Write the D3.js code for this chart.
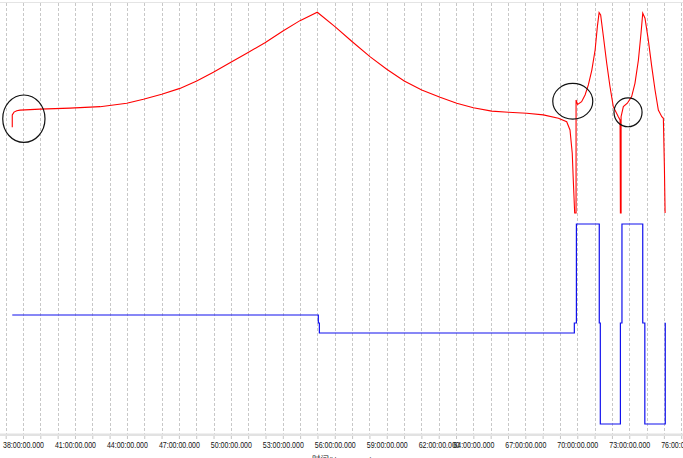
<!DOCTYPE html>
<html>
<head>
<meta charset="utf-8">
<script src="https://cdn.jsdelivr.net/npm/d3@7"></script>
<style>
  body { margin: 0; background: #fff; }
  svg { display: block; font-family: "Liberation Sans", Arial, sans-serif; }
</style>
</head>
<body>
<svg></svg>
<script>
let width = 683, height = 458;

// hour marks on the time axis (only some of them carry a label)
let gridHours = d3.range(37, 77);
let labelHours = [38, 41, 44, 47, 50, 53, 56, 59, 62, 64, 67, 70, 73, 76];

// red series: [hours, value]
let redHours = [37.38, 37.38, 37.48, 37.64, 37.83, 38.98, 40.71, 42.45, 43.99, 44.95, 46.01, 47.06, 48.03, 48.99,
  49.95, 50.92, 51.97, 53.03, 53.99, 54.99, 56.01, 57.01, 58.03, 59.0, 60.01, 61.02, 62.08, 63.04, 64.0,
  65.06, 66.02, 67.08, 68.04, 68.91, 69.39, 69.58, 69.71, 69.77, 69.85, 69.93, 69.93, 70.02, 70.25, 70.45,
  70.64, 70.84, 71.03, 71.16, 71.26, 71.35, 71.51, 71.70, 71.89, 72.08, 72.37, 72.47, 72.49, 72.53, 72.53,
  72.66, 72.89, 73.14, 73.33, 73.53, 73.68, 73.78, 73.91, 74.10, 74.30, 74.49, 74.68, 74.88, 74.97, 75.03, 75.07];
let redValues = [42.6, 48.8, 50.2, 50.9, 51.2, 51.7, 52.2, 52.9, 54.6, 56.6, 59.1, 62.0, 65.7, 70.0,
  74.8, 79.5, 84.7, 90.7, 95.7, 99.9, 92.7, 85.2, 77.8, 71.5, 65.7, 61.2, 57.6, 54.6, 52.4,
  50.7, 50.1, 49.6, 48.8, 47.1, 45.4, 41.3, 29.7, 16.4, 0, 0, 56.2, 54.0, 55.4, 58.7,
  63.7, 71.1, 81.1, 92.7, 99.7, 98.5, 87.7, 74.5, 62.8, 52.9, 47.9, 46.3, 0, 0, 48.0,
  52.9, 54.6, 57.9, 64.5, 76.1, 89.4, 99.4, 96.9, 86.1, 72.8, 61.2, 51.2, 47.9, 47.1, 23.0, 0];

// blue series (step): [hours, value]
let blueHours = [37.38, 55.05, 55.11, 69.83, 69.95, 71.27, 71.33, 72.49, 72.58, 73.78, 73.90, 75.08, 75.09];
let blueValues = [9, 1, -9, 1, 100, 1, -100, 1, 100, 1, -100, 1, 1];

// circled spots: hours, red value, half width (h), half height (value)
let marks = [
  {h: 38.05, v: 46.9, rh: 1.22, rv: 11.8},
  {h: 69.74, v: 55.6, rh: 1.155, rv: 8.9},
  {h: 72.93, v: 50.1, rh: 0.81, rv: 7.2}
];

let svg = d3.select("svg")
  .attr("width", width)
  .attr("height", height);

let x = d3.scaleLinear().domain([38, 76]).range([23, 681.2]);
let yRed = d3.scaleLinear().domain([0, 100]).range([213, 12]);
let yBlue = d3.scaleLinear().domain([-100, 100]).range([424, 224]);

// top border
svg.append("line")
  .attr("x1", 0).attr("x2", width)
  .attr("y1", 2.5).attr("y2", 2.5)
  .attr("stroke", "#e4e4e4");

// vertical grid
svg.append("g")
  .selectAll("line")
  .data(gridHours)
  .enter()
  .append("line")
  .attr("x1", d => Math.round(x(d)) + 0.5)
  .attr("x2", d => Math.round(x(d)) + 0.5)
  .attr("y1", 3)
  .attr("y2", 434)
  .attr("stroke", "#c8c8c8")
  .attr("stroke-dasharray", "3,2");

// axis band
svg.append("rect")
  .attr("x", 0).attr("y", 433.5)
  .attr("width", width).attr("height", 2.5)
  .attr("fill", "#e2e2e2");

let axis = svg.append("g")
  .attr("transform", "translate(0,436)")
  .call(d3.axisBottom(x)
    .tickValues(gridHours)
    .tickSize(3)
    .tickSizeOuter(0)
    .tickFormat(d => labelHours.includes(d) ? d + ":00:00.000" : ""));

axis.select(".domain").remove();
axis.selectAll(".tick line").attr("stroke", "#c4c4c4");
axis.selectAll(".tick text")
  .attr("y", 5.5)
  .attr("dy", "0.71em")
  .attr("fill", "#111")
  .style("font-size", "8.6px")
  .filter(d => labelHours.includes(d))
  .attr("textLength", 41)
  .attr("lengthAdjust", "spacingAndGlyphs");

// axis title (cut off by the window bottom)
let title = svg.append("text")
  .attr("x", 312)
  .attr("y", 462)
  .attr("fill", "#111")
  .style("font-size", "8.5px");
title.append("tspan")
  .style("font-family", "'Noto Sans CJK SC', sans-serif")
  .text("时间");
title.append("tspan")
  .style("font-size", "6.5px")
  .text("(hh:mm:ss.ms)");

// red line
let redLine = d3.line()
  .x((d, i) => x(redHours[i]))
  .y(d => yRed(d));

svg.append("path")
  .datum(redValues)
  .attr("d", redLine)
  .attr("fill", "none")
  .attr("stroke", "#ff0000")
  .attr("stroke-width", 1.1);

// blue line
let blueLine = d3.line()
  .curve(d3.curveStepAfter)
  .x((d, i) => x(blueHours[i]))
  .y(d => yBlue(d));

svg.append("path")
  .datum(blueValues)
  .attr("d", blueLine)
  .attr("fill", "none")
  .attr("stroke", "#1010ee")
  .attr("stroke-width", 1.2);

// annotation ellipses
svg.append("g")
  .selectAll("ellipse")
  .data(marks)
  .enter()
  .append("ellipse")
  .attr("cx", d => x(d.h))
  .attr("cy", d => yRed(d.v))
  .attr("rx", d => x(d.h + d.rh) - x(d.h))
  .attr("ry", d => yRed(d.v - d.rv) - yRed(d.v))
  .attr("fill", "none")
  .attr("stroke", "#111")
  .attr("stroke-width", 1.2);
</script>
</body>
</html>
